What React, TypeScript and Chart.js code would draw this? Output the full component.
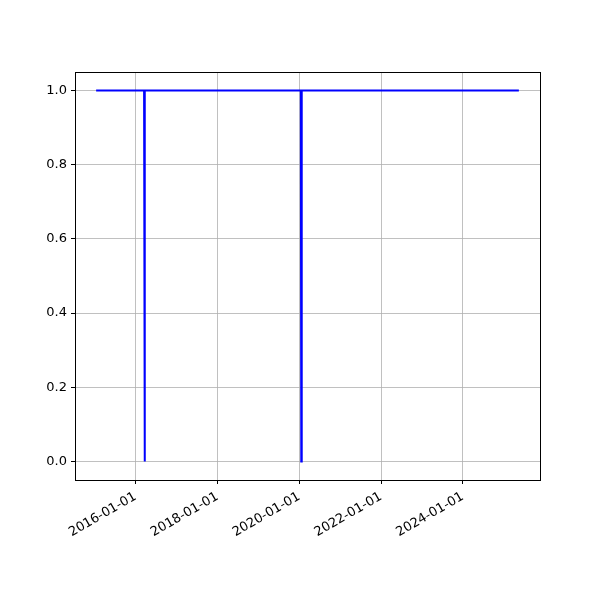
import React, { useEffect, useRef } from "react";
import { Chart, registerables } from "chart.js";

Chart.register(...registerables);

const dates = [
  "2015-01-15",
  "2016-03-18",
  "2016-03-22",
  "2016-03-26",
  "2020-01-16",
  "2020-01-20",
  "2020-01-24",
  "2025-05-15",
];
const values = [1, 1, 0, 1, 1, 0, 1, 1];
const xTickDates = ["2016-01-01", "2018-01-01", "2020-01-01", "2022-01-01", "2024-01-01"];
const yTickValues = [0, 0.2, 0.4, 0.6, 0.8, 1.0];

const toMs = (d: string) => Date.parse(d + "T00:00:00Z");
const fmt = (ms: number) => new Date(ms).toISOString().slice(0, 10);

export default function App() {
  const ref = useRef<HTMLCanvasElement>(null);
  useEffect(() => {
    document.body.style.margin = "0";
    const xs = dates.map(toMs);
    const span = xs[xs.length - 1] - xs[0];
    const xMin = xs[0] - span * 0.05;
    const xMax = xs[xs.length - 1] + span * 0.05;
    const frame = {
      id: "frame",
      afterDraw(chart: any) {
        const { ctx, chartArea: a } = chart;
        ctx.save();
        ctx.strokeStyle = "#000";
        ctx.lineWidth = 1;
        ctx.strokeRect(Math.round(a.left) + 0.5, Math.round(a.top) + 0.5, Math.round(a.right - a.left), Math.round(a.bottom - a.top));
        ctx.restore();
      },
    };
    const font = { family: "DejaVu Sans", size: 13 };
    const chart = new Chart(ref.current!, {
      type: "line",
      data: {
        datasets: [
          {
            data: xs.map((x, i) => ({ x, y: values[i] })),
            borderColor: "#0000ff",
            borderWidth: 2,
            pointRadius: 0,
            tension: 0,
            fill: false,
          },
        ],
      },
      options: {
        animation: false,
        responsive: false,
        layout: { padding: { top: 72, right: 60, left: 0, bottom: 0 } },
        plugins: { legend: { display: false }, tooltip: { enabled: false } },
        scales: {
          x: {
            type: "linear",
            min: xMin,
            max: xMax,
            afterBuildTicks: (s: any) => {
              s.ticks = xTickDates.map((d) => ({ value: toMs(d) }));
            },
            afterFit: (s: any) => {
              s.height = 120;
              s.paddingLeft = 0;
              s.paddingRight = 0;
            },
            ticks: {
              callback: (v: any) => fmt(Number(v)),
              minRotation: 30,
              maxRotation: 30,
              color: "#000",
              font,
              padding: 5,
              autoSkip: false,
            },
            grid: { color: "#b0b0b0", lineWidth: 0.8, tickLength: 4, tickColor: "#000", tickWidth: 1 },
            border: { color: "#000", width: 1 },
          },
          y: {
            type: "linear",
            min: -0.05,
            max: 1.05,
            afterBuildTicks: (s: any) => {
              s.ticks = yTickValues.map((v) => ({ value: v }));
            },
            afterFit: (s: any) => {
              s.width = 75;
            },
            ticks: {
              callback: (v: any) => Number(v).toFixed(1),
              color: "#000",
              font,
              padding: 4,
            },
            grid: { color: "#b0b0b0", lineWidth: 0.8, tickLength: 4, tickColor: "#000", tickWidth: 1 },
            border: { color: "#000", width: 1 },
          },
        },
      },
      plugins: [frame],
    });
    return () => chart.destroy();
  }, []);
  return <canvas ref={ref} width={600} height={600} style={{ display: "block" }} />;
}
